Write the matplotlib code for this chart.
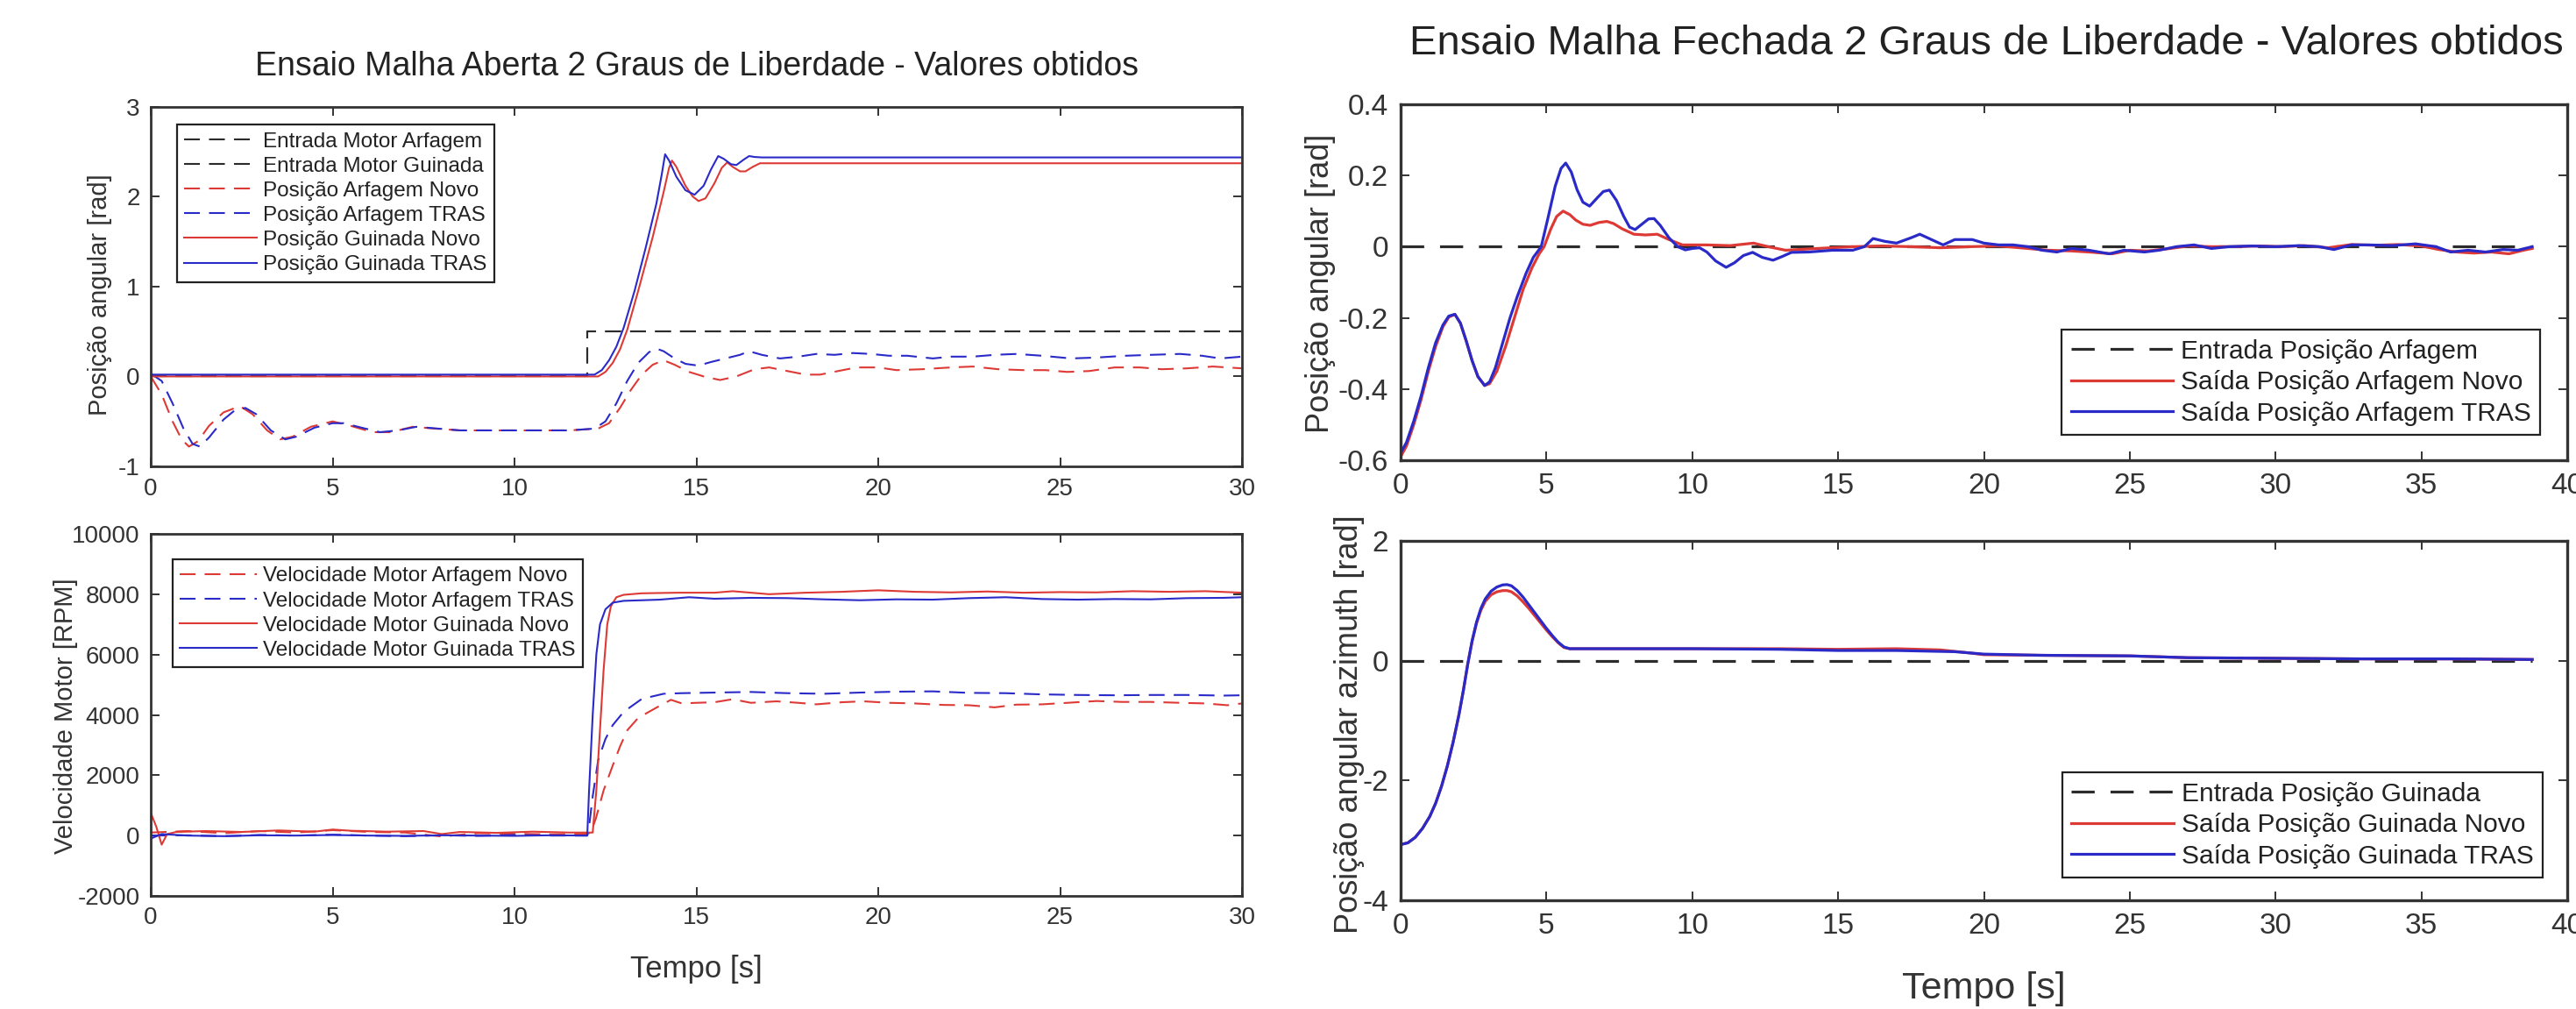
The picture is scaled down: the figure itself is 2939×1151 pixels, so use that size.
import matplotlib
matplotlib.use("Agg")
import matplotlib.pyplot as plt
from matplotlib.ticker import FuncFormatter, MultipleLocator

plt.rcParams['font.family'] = ['Liberation Sans', 'DejaVu Sans']
plt.rcParams['axes.unicode_minus'] = False
plt.rcParams['lines.scale_dashes'] = False

# ---------------- DATA ----------------
# Left top: open loop angular positions
t_entrada = [0, 12, 12, 30]
entrada_motor_arfagem = [0, 0, 0.5, 0.5]
entrada_motor_guinada = [0, 0, 0.5, 0.5]

t_pos_arf_novo = [0, 0.3, 0.6, 0.85, 1.05, 1.3, 1.6, 2.0, 2.45, 2.8, 3.2, 3.55, 3.9, 4.4, 5.0, 5.5,
                  6.1, 6.6, 7.2, 7.8, 8.5, 9.5, 10.5, 11.5, 12.3, 12.6, 12.9, 13.2, 13.5, 13.8, 14.1,
                  14.4, 14.8, 15.2, 15.65, 16.1, 16.6, 17.0, 17.5, 18.0, 18.4, 18.9, 19.4, 20.0, 20.5,
                  21.2, 22.0, 22.6, 23.3, 24.0, 24.6, 25.2, 25.8, 26.5, 27.2, 27.8, 28.5, 29.2, 30.0]
pos_arf_novo = [0.0, -0.2, -0.5, -0.7, -0.78, -0.72, -0.55, -0.4, -0.33, -0.42, -0.6, -0.7, -0.67,
                -0.56, -0.5, -0.55, -0.62, -0.62, -0.56, -0.58, -0.6, -0.6, -0.6, -0.6, -0.58, -0.52,
                -0.35, -0.15, 0.02, 0.13, 0.18, 0.13, 0.05, 0.0, -0.04, 0.0, 0.08, 0.1, 0.06, 0.02,
                0.02, 0.06, 0.1, 0.1, 0.07, 0.08, 0.1, 0.11, 0.08, 0.07, 0.07, 0.05, 0.06, 0.1, 0.1,
                0.08, 0.09, 0.11, 0.09]

t_pos_arf_tras = [0, 0.3, 0.6, 0.9, 1.15, 1.35, 1.6, 2.0, 2.3, 2.6, 2.9, 3.3, 3.7, 4.0, 4.5, 5.0,
                  5.3, 5.8, 6.3, 6.8, 7.3, 7.9, 8.5, 9.5, 10.5, 11.5, 12.2, 12.5, 12.8, 13.1, 13.4,
                  13.7, 13.9, 14.1, 14.4, 14.7, 15.05, 15.4, 15.8, 16.2, 16.45, 16.8, 17.3, 17.8,
                  18.3, 18.8, 19.3, 19.8, 20.3, 20.8, 21.5, 22.0, 22.6, 23.2, 23.8, 24.5, 25.3, 26.0,
                  26.8, 27.5, 28.3, 28.9, 29.4, 30.0]
pos_arf_tras = [0.03, -0.05, -0.3, -0.58, -0.75, -0.78, -0.68, -0.48, -0.38, -0.35, -0.42, -0.6,
                -0.7, -0.67, -0.57, -0.52, -0.52, -0.57, -0.62, -0.6, -0.56, -0.58, -0.6, -0.6, -0.6,
                -0.6, -0.58, -0.5, -0.3, -0.05, 0.15, 0.27, 0.31, 0.28, 0.2, 0.14, 0.12, 0.16, 0.2,
                0.24, 0.28, 0.24, 0.2, 0.22, 0.25, 0.24, 0.26, 0.25, 0.23, 0.23, 0.2, 0.22, 0.22,
                0.24, 0.25, 0.23, 0.2, 0.21, 0.23, 0.24, 0.25, 0.23, 0.2, 0.22]

t_pos_gui_novo = [0, 12.3, 12.5, 12.7, 12.9, 13.1, 13.4, 13.8, 14.1, 14.25, 14.33, 14.45, 14.7, 14.9,
                  15.06, 15.25, 15.5, 15.7, 15.85, 16.0, 16.2, 16.35, 16.55, 16.75, 30.0]
pos_gui_novo = [0.0, 0.0, 0.05, 0.15, 0.3, 0.52, 0.95, 1.55, 2.05, 2.32, 2.4, 2.33, 2.12, 2.0, 1.95,
                1.98, 2.15, 2.32, 2.38, 2.33, 2.28, 2.28, 2.33, 2.37, 2.37]

t_pos_gui_tras = [0, 12.2, 12.4, 12.6, 12.8, 13.0, 13.3, 13.6, 13.9, 14.05, 14.14, 14.25, 14.45,
                  14.7, 14.95, 15.2, 15.4, 15.6, 15.75, 15.95, 16.1, 16.3, 16.45, 16.6, 16.8, 30.0]
pos_gui_tras = [0.02, 0.02, 0.07, 0.18, 0.33, 0.54, 0.95, 1.42, 1.92, 2.25, 2.47, 2.4, 2.22, 2.07,
                2.02, 2.12, 2.3, 2.45, 2.42, 2.36, 2.35, 2.41, 2.45, 2.44, 2.435, 2.435]

# Left bottom: motor speeds [RPM]
t_vel_arf_novo = [0, 1, 2, 3, 4, 5, 6, 7, 8, 9, 10, 11, 12, 12.1, 12.24, 12.45, 12.7, 12.9, 13.1,
                  13.4, 13.9, 14.3, 14.6, 15.0, 15.5, 16.0, 16.5, 17.2, 17.8, 18.3, 19.0, 19.6,
                  20.3, 21.0, 21.8, 22.5, 23.2, 23.8, 24.5, 25.2, 26.0, 26.7, 27.5, 28.3, 29.0,
                  29.6, 30.0]
vel_arf_novo = [100, 150, 80, 150, 100, 180, 120, 100, -30, 80, 60, 40, 60, 100, 580, 1500, 2320,
                2950, 3490, 3900, 4240, 4500, 4380, 4400, 4420, 4520, 4400, 4450, 4400, 4350, 4420,
                4450, 4400, 4380, 4330, 4320, 4250, 4340, 4350, 4400, 4460, 4430, 4430, 4400, 4380,
                4320, 4380]

t_vel_arf_tras = [0, 1, 2, 3, 4, 5, 6, 7, 8, 9, 10, 11, 12.0, 12.05, 12.15, 12.3, 12.5, 12.7, 13.0,
                  13.5, 14.1, 14.6, 15.5, 16.5, 17.5, 18.5, 19.5, 20.5, 21.5, 22.5, 23.5, 24.5,
                  25.5, 26.5, 27.5, 28.5, 29.5, 30.0]
vel_arf_tras = [0, 10, -20, 20, 0, 30, 0, -20, 10, -10, 20, 0, 0, 300, 1300, 2500, 3200, 3660, 4100,
                4530, 4700, 4720, 4740, 4760, 4720, 4700, 4740, 4770, 4780, 4730, 4720, 4680, 4660,
                4650, 4660, 4660, 4640, 4650]

t_vel_gui_novo = [0, 0.15, 0.3, 0.45, 0.7, 1.5, 2.5, 3.5, 4.5, 5.0, 5.5, 6.5, 7.5, 8.0, 8.5, 9.5,
                  10.5, 11.5, 12.15, 12.25, 12.35, 12.45, 12.55, 12.65, 12.8, 13.0, 13.5, 14.5,
                  15.5, 16.0, 17.0, 18.0, 19.0, 20.0, 21.0, 22.0, 23.0, 24.0, 25.0, 26.0, 27.0,
                  28.0, 29.0, 30.0]
vel_gui_novo = [750, 300, -300, 50, 120, 150, 120, 170, 130, 200, 160, 130, 150, 50, 120, 90, 130,
                100, 100, 1500, 3500, 5500, 7000, 7600, 7900, 7980, 8030, 8050, 8050, 8100, 8000,
                8050, 8080, 8130, 8080, 8060, 8090, 8050, 8070, 8060, 8100, 8080, 8100, 8050]

t_vel_gui_tras = [0, 0.3, 1, 2, 3, 4, 5, 6, 7, 8, 9, 10, 11, 12.0, 12.05, 12.15, 12.25, 12.35,
                  12.5, 12.7, 13.0, 14.0, 14.8, 15.5, 16.5, 17.5, 18.5, 19.5, 20.5, 21.5, 22.5,
                  23.5, 24.5, 25.5, 26.5, 27.5, 28.5, 29.5, 30.0]
vel_gui_tras = [-100, 50, 0, -20, 10, 0, 20, 0, -10, 10, 0, -10, 10, 0, 1500, 4000, 6000, 7000,
                7500, 7720, 7780, 7820, 7900, 7850, 7880, 7870, 7830, 7800, 7830, 7820, 7870, 7900,
                7840, 7820, 7840, 7830, 7870, 7880, 7900]

# Right top: closed loop pitch
t_ref_arf = [0, 38.8]
ref_arf = [0, 0]

t_arf_novo = [0, 0.2, 0.45, 0.7, 0.95, 1.2, 1.45, 1.65, 1.86, 2.05, 2.25, 2.45, 2.65, 2.88, 3.05,
              3.3, 3.6, 3.9, 4.2, 4.5, 4.75, 4.92, 5.15, 5.35, 5.57, 5.8, 6.0, 6.25, 6.5, 6.8,
              7.07, 7.3, 7.6, 8.0, 8.4, 8.8, 9.2, 9.66, 10.5, 11.3, 12.1, 12.6, 13.2, 14.3, 15.5,
              16.5, 17.5, 18.5, 19.5, 20.5, 21.5, 22.2, 23.0, 23.6, 24.4, 25.0, 25.6, 26.4, 27.0,
              27.8, 28.6, 29.4, 30.2, 31.0, 31.8, 32.6, 33.4, 34.2, 35.0, 35.6, 36.2, 36.8, 37.4,
              38.0, 38.5, 38.8]
arf_novo = [-0.59, -0.56, -0.5, -0.43, -0.35, -0.28, -0.225, -0.198, -0.19, -0.215, -0.265, -0.32,
            -0.365, -0.39, -0.385, -0.35, -0.28, -0.2, -0.12, -0.06, -0.02, 0.0, 0.05, 0.085, 0.10,
            0.09, 0.075, 0.063, 0.06, 0.068, 0.071, 0.065, 0.05, 0.035, 0.033, 0.035, 0.02, 0.005,
            0.005, 0.003, 0.01, 0.0, -0.01, -0.005, 0.0, 0.002, 0.0, -0.003, 0.0, 0.002, -0.005,
            -0.01, -0.012, -0.015, -0.02, -0.01, -0.012, -0.005, 0.002, 0.0, 0.0, 0.002, 0.0,
            0.003, -0.003, 0.006, 0.004, 0.006, 0.002, -0.008, -0.015, -0.018, -0.015, -0.02,
            -0.01, -0.005]

t_arf_tras = [0, 0.2, 0.45, 0.7, 0.95, 1.2, 1.45, 1.65, 1.86, 2.05, 2.25, 2.45, 2.65, 2.88, 3.05,
              3.25, 3.5, 3.75, 4.0, 4.3, 4.55, 4.82, 5.05, 5.3, 5.5, 5.66, 5.85, 6.05, 6.25, 6.48,
              6.75, 6.95, 7.16, 7.4, 7.65, 7.85, 8.04, 8.3, 8.5, 8.69, 8.9, 9.2, 9.5, 9.76, 10.0,
              10.25, 10.5, 10.8, 11.16, 11.45, 11.75, 12.07, 12.4, 12.77, 13.1, 13.4, 14.0, 14.8,
              15.5, 15.9, 16.2, 16.6, 17.0, 17.5, 17.8, 18.2, 18.6, 19.0, 19.6, 20.0, 20.5, 21.0,
              21.5, 22.0, 22.5, 23.0, 23.6, 24.3, 24.8, 25.5, 26.0, 26.6, 27.2, 27.8, 28.4, 29.2,
              30.0, 30.8, 31.5, 32.0, 32.6, 33.2, 34.0, 34.8, 35.5, 36.0, 36.6, 37.2, 37.8, 38.3,
              38.8]
arf_tras = [-0.58, -0.55, -0.49, -0.42, -0.34, -0.27, -0.22, -0.195, -0.19, -0.215, -0.265, -0.32,
            -0.365, -0.39, -0.38, -0.34, -0.27, -0.2, -0.14, -0.075, -0.03, 0.0, 0.08, 0.17, 0.22,
            0.235, 0.21, 0.16, 0.125, 0.114, 0.138, 0.155, 0.159, 0.13, 0.085, 0.055, 0.048,
            0.065, 0.078, 0.079, 0.06, 0.025, 0.0, -0.009, -0.005, -0.003, -0.015, -0.04, -0.058,
            -0.045, -0.025, -0.016, -0.03, -0.038, -0.027, -0.016, -0.015, -0.01, -0.01, 0.0,
            0.023, 0.015, 0.01, 0.025, 0.035, 0.02, 0.005, 0.02, 0.02, 0.01, 0.005, 0.005, 0.0,
            -0.01, -0.015, -0.005, -0.01, -0.02, -0.01, -0.015, -0.01, 0.0, 0.005, -0.005, 0.0,
            0.002, 0.0, 0.003, 0.0, -0.008, 0.005, 0.005, 0.003, 0.008, 0.0, -0.015, -0.01,
            -0.015, -0.008, -0.01, 0.0]

# Right bottom: closed loop yaw
t_ref_gui = [0, 38.8]
ref_gui = [0, 0]

t_gui_novo = [0, 0.25, 0.5, 0.75, 1.0, 1.2, 1.4, 1.6, 1.8, 2.0, 2.15, 2.3, 2.45, 2.6, 2.75, 2.9,
              3.1, 3.3, 3.5, 3.65, 3.8, 4.0, 4.2, 4.4, 4.6, 4.8, 5.0, 5.2, 5.4, 5.6, 5.8, 7.0,
              10.0, 13.0, 15.0, 17.0, 18.5, 19.5, 20.0, 22.0, 25.0, 27.0, 30.0, 33.0, 36.0, 38.8]
gui_novo = [-3.07, -3.04, -2.95, -2.8, -2.6, -2.38, -2.1, -1.76, -1.36, -0.9, -0.5, -0.06, 0.32,
            0.62, 0.84, 0.99, 1.1, 1.15, 1.17, 1.17, 1.15, 1.08, 0.98, 0.87, 0.75, 0.63, 0.51,
            0.4, 0.3, 0.22, 0.2, 0.2, 0.2, 0.2, 0.19, 0.2, 0.18, 0.13, 0.1, 0.09, 0.08, 0.05,
            0.04, 0.03, 0.03, 0.02]

t_gui_tras = [0, 0.25, 0.5, 0.75, 1.0, 1.2, 1.4, 1.6, 1.8, 2.0, 2.15, 2.3, 2.45, 2.6, 2.75, 2.9,
              3.1, 3.3, 3.5, 3.65, 3.8, 4.0, 4.2, 4.4, 4.6, 4.8, 5.0, 5.2, 5.4, 5.6, 5.8, 7.0,
              10.0, 13.0, 15.0, 17.0, 19.0, 20.0, 22.0, 25.0, 27.0, 30.0, 33.0, 36.0, 38.8]
gui_tras = [-3.07, -3.04, -2.95, -2.8, -2.6, -2.38, -2.1, -1.76, -1.36, -0.9, -0.5, -0.06, 0.33,
            0.64, 0.87, 1.03, 1.16, 1.23, 1.265, 1.27, 1.25, 1.17, 1.06, 0.93, 0.8, 0.67, 0.54,
            0.42, 0.31, 0.23, 0.2, 0.2, 0.2, 0.19, 0.17, 0.17, 0.15, 0.11, 0.09, 0.08, 0.05,
            0.04, 0.03, 0.03, 0.02]

# ---------------- STYLE ----------------
RED = '#dd3a36'
BLUE = '#2a2ac8'
BLACK = '#2b2b2b'
AXC = '#333333'

W, H = 2939, 1151
fig = plt.figure(figsize=(W / 100, H / 100), dpi=100)
fig.patch.set_facecolor('white')


def box(x0, y0, x1, y1):
    return [x0 / W, 1 - y1 / H, (x1 - x0) / W, (y1 - y0) / H]


def style(ax, tick_fs, spine_lw, pad):
    for s in ax.spines.values():
        s.set_color(AXC)
        s.set_linewidth(spine_lw)
    ax.tick_params(direction='in', top=True, right=True, length=7, width=1.4,
                   colors=AXC, labelsize=tick_fs, pad=pad)
    fmt = FuncFormatter(lambda v, p: '%g' % round(v, 6))
    ax.xaxis.set_major_formatter(fmt)
    ax.yaxis.set_major_formatter(fmt)


def leg(ax, handles_loc, anchor, fs, hl):
    lg = ax.legend(loc=handles_loc, bbox_to_anchor=anchor, fontsize=fs, frameon=True,
                   fancybox=False, shadow=False, borderaxespad=0, borderpad=0.35,
                   labelspacing=0.25, handlelength=hl, handletextpad=0.3)
    fr = lg.get_frame()
    fr.set_edgecolor('#222222')
    fr.set_linewidth(1.6)
    fr.set_alpha(1)
    for t in lg.get_texts():
        t.set_color('#222222')
    return lg


LW_L = 1.5
DL = (13, 7.5)
LW_R = 2.3
DR = (19, 13)

# ----- Left top -----
ax1 = fig.add_axes(box(172, 121.6, 1417, 532))
ax1.plot(t_entrada, entrada_motor_arfagem, color=BLACK, lw=LW_L, dashes=DL, label='Entrada Motor Arfagem')
ax1.plot(t_entrada, entrada_motor_guinada, color=BLACK, lw=LW_L, dashes=DL, label='Entrada Motor Guinada')
ax1.plot(t_pos_arf_novo, pos_arf_novo, color=RED, lw=LW_L, dashes=DL, label='Posição Arfagem Novo')
ax1.plot(t_pos_arf_tras, pos_arf_tras, color=BLUE, lw=LW_L, dashes=DL, label='Posição Arfagem TRAS')
ax1.plot(t_pos_gui_novo, pos_gui_novo, color=RED, lw=LW_L, label='Posição Guinada Novo')
ax1.plot(t_pos_gui_tras, pos_gui_tras, color=BLUE, lw=LW_L, label='Posição Guinada TRAS')
ax1.set_xlim(0, 30)
ax1.set_ylim(-1, 3)
ax1.xaxis.set_major_locator(MultipleLocator(5))
ax1.yaxis.set_major_locator(MultipleLocator(1))
style(ax1, 20, 2.0, 9)
ax1.set_ylabel('Posição angular [rad]', fontsize=21, color=AXC)
ax1.yaxis.set_label_coords(-0.0465, 0.477)
ax1.yaxis.label.set_va('center')
leg(ax1, 'upper left', (0.024, 0.95), 17.5, 3.4)
fig.text(795 / W, 1 - 76 / H, 'Ensaio Malha Aberta 2 Graus de Liberdade - Valores obtidos',
         ha='center', va='center', fontsize=27, color='#222222')

# ----- Left bottom -----
ax2 = fig.add_axes(box(172, 609, 1417, 1022))
ax2.plot(t_vel_arf_novo, vel_arf_novo, color=RED, lw=LW_L, dashes=DL, label='Velocidade Motor Arfagem Novo')
ax2.plot(t_vel_arf_tras, vel_arf_tras, color=BLUE, lw=LW_L, dashes=DL, label='Velocidade Motor Arfagem TRAS')
ax2.plot(t_vel_gui_novo, vel_gui_novo, color=RED, lw=LW_L, label='Velocidade Motor Guinada Novo')
ax2.plot(t_vel_gui_tras, vel_gui_tras, color=BLUE, lw=LW_L, label='Velocidade Motor Guinada TRAS')
ax2.set_xlim(0, 30)
ax2.set_ylim(-2000, 10000)
ax2.xaxis.set_major_locator(MultipleLocator(5))
ax2.yaxis.set_major_locator(MultipleLocator(2000))
style(ax2, 20, 2.0, 9)
ax2.set_ylabel('Velocidade Motor [RPM]', fontsize=21, color=AXC)
ax2.yaxis.set_label_coords(-0.078, 0.496)
ax2.yaxis.label.set_va('center')
ax2.set_xlabel('Tempo [s]', fontsize=25, color=AXC)
ax2.xaxis.set_label_coords(0.5, -0.201)
ax2.xaxis.label.set_va('center')
leg(ax2, 'upper left', (0.02, 0.93), 17.5, 3.6)

# ----- Right top -----
ax3 = fig.add_axes(box(1598, 119, 2929, 525))
ax3.plot(t_ref_arf, ref_arf, color=BLACK, lw=LW_R, dashes=DR, label='Entrada Posição Arfagem')
ax3.plot(t_arf_novo, arf_novo, color=RED, lw=LW_R, label='Saída Posição Arfagem Novo')
ax3.plot(t_arf_tras, arf_tras, color=BLUE, lw=LW_R, label='Saída Posição Arfagem TRAS')
ax3.set_xlim(0, 40)
ax3.set_ylim(-0.6, 0.4)
ax3.xaxis.set_major_locator(MultipleLocator(5))
ax3.yaxis.set_major_locator(MultipleLocator(0.2))
style(ax3, 24, 2.4, 10)
ax3.set_ylabel('Posição angular [rad]', fontsize=26, color=AXC)
ax3.yaxis.set_label_coords(-0.069, 0.497)
ax3.yaxis.label.set_va('center')
leg(ax3, 'lower right', (0.977, 0.071), 21.5, 3.9)
fig.text(2266 / W, 1 - 50 / H, 'Ensaio Malha Fechada 2 Graus de Liberdade - Valores obtidos',
         ha='center', va='center', fontsize=34, color='#222222')

# ----- Right bottom -----
ax4 = fig.add_axes(box(1598, 617, 2929, 1027))
ax4.plot(t_ref_gui, ref_gui, color=BLACK, lw=LW_R, dashes=DR, label='Entrada Posição Guinada')
ax4.plot(t_gui_novo, gui_novo, color=RED, lw=LW_R, label='Saída Posição Guinada Novo')
ax4.plot(t_gui_tras, gui_tras, color=BLUE, lw=LW_R, label='Saída Posição Guinada TRAS')
ax4.set_xlim(0, 40)
ax4.set_ylim(-4, 2)
ax4.xaxis.set_major_locator(MultipleLocator(5))
ax4.yaxis.set_major_locator(MultipleLocator(2))
style(ax4, 24, 2.4, 10)
ax4.set_ylabel('Posição angular azimuth [rad]', fontsize=26, color=AXC)
ax4.yaxis.set_label_coords(-0.0436, 0.49)
ax4.yaxis.label.set_va('center')
ax4.set_xlabel('Tempo [s]', fontsize=31, color=AXC)
ax4.xaxis.set_label_coords(0.5, -0.246)
ax4.xaxis.label.set_va('center')
leg(ax4, 'lower right', (0.979, 0.063), 21.5, 3.9)

fig.savefig('out.png', dpi=100, facecolor='white')
